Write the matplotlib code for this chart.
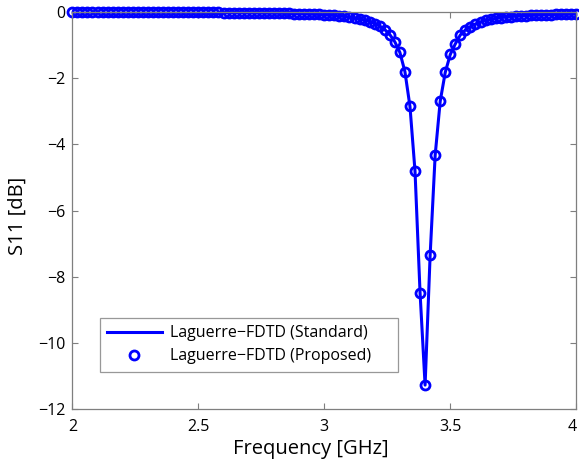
import numpy as np
import matplotlib
matplotlib.use("Agg")
import matplotlib.pyplot as plt

# frequentie-as 2..4 GHz, stap 0.02 GHz
freq_ghz = np.linspace(2.0, 4.0, 101)

# S11 [dB]
s11_standard = [
    -0.008, -0.008, -0.008, -0.009, -0.009, -0.009, -0.009, -0.010, -0.010, -0.010,
    -0.011, -0.011, -0.012, -0.012, -0.013, -0.013, -0.014, -0.014, -0.015, -0.015,
    -0.016, -0.016, -0.017, -0.018, -0.018, -0.019, -0.020, -0.021, -0.022, -0.023,
    -0.024, -0.025, -0.027, -0.028, -0.030, -0.031, -0.033, -0.035, -0.038, -0.040,
    -0.042, -0.045, -0.049, -0.052, -0.056, -0.060, -0.065, -0.070, -0.076, -0.083,
    -0.092, -0.102, -0.114, -0.127, -0.143, -0.162, -0.186, -0.215, -0.250, -0.297,
    -0.356, -0.435, -0.540, -0.690, -0.910, -1.230, -1.810, -2.860, -4.810, -8.480,
    -11.270,
    -7.350, -4.330, -2.700, -1.830, -1.290, -0.970, -0.700, -0.550, -0.450, -0.370,
    -0.310, -0.265, -0.230, -0.200, -0.178, -0.160, -0.146, -0.135, -0.125, -0.116,
    -0.109, -0.102, -0.097, -0.092, -0.088, -0.084, -0.080, -0.077, -0.074, -0.071,
]
# voorgestelde methode valt samen met de standaard oplossing
s11_proposed = list(s11_standard)

labels = ["Laguerre\u2212FDTD (Standard)", "Laguerre\u2212FDTD (Proposed)"]
x_ticks = [2, 2.5, 3, 3.5, 4]
x_ticklabels = ["2", "2.5", "3", "3.5", "4"]
y_ticks = [-12, -10, -8, -6, -4, -2, 0]

plt.rcParams["font.family"] = ["Open Sans", "DejaVu Sans"]
plt.rcParams["axes.unicode_minus"] = True

fig = plt.figure(figsize=(5.79, 4.63), dpi=100)
ax = fig.add_axes([0.1249, 0.116, 0.8704, 0.8587])

ax.plot(freq_ghz, s11_standard, color="#0000ff", lw=2.2, label=labels[0])
ax.plot(freq_ghz, s11_proposed, ls="none", marker="o", ms=6.5, mfc="none",
        mec="#0000ff", mew=2.0, label=labels[1], clip_on=False)

ax.set_xlim(2, 4)
ax.set_ylim(-12, 0)
ax.set_xticks(x_ticks)
ax.set_xticklabels(x_ticklabels)
ax.set_yticks(y_ticks)

for s in ax.spines.values():
    s.set_color("#7f7f7f")
    s.set_linewidth(0.9)
ax.tick_params(direction="in", length=4, width=0.8, color="#7f7f7f",
               top=True, right=True, labelsize=11.5, labelcolor="black")
ax.tick_params(axis="x", pad=7)
ax.tick_params(axis="y", pad=5)
# laatste label "4" net binnen de rand houden
ax.get_xticklabels()[-1].set_horizontalalignment("right")

ax.set_xlabel("Frequency [GHz]", fontsize=14.5)
ax.set_ylabel("S11 [dB]", fontsize=14.5)
# in het origineel staat het x-label iets links van het midden
ax.xaxis.set_label_coords(0.474, -0.075)
ax.yaxis.set_label_coords(-0.088, 0.486)

# legenda met lege ruimte rechts, zoals in het origineel
leg = ax.legend(loc="upper left", bbox_to_anchor=(0.055, 0.094, 0.591, 0.1356),
                mode="expand", fontsize=11.5, frameon=True, fancybox=False,
                handlelength=3.4, handletextpad=0.5, borderpad=0.45,
                labelspacing=0.45, borderaxespad=0)
leg.get_frame().set_edgecolor("#7f7f7f")
leg.get_frame().set_linewidth(0.9)

fig.savefig("out.png", dpi=100)
